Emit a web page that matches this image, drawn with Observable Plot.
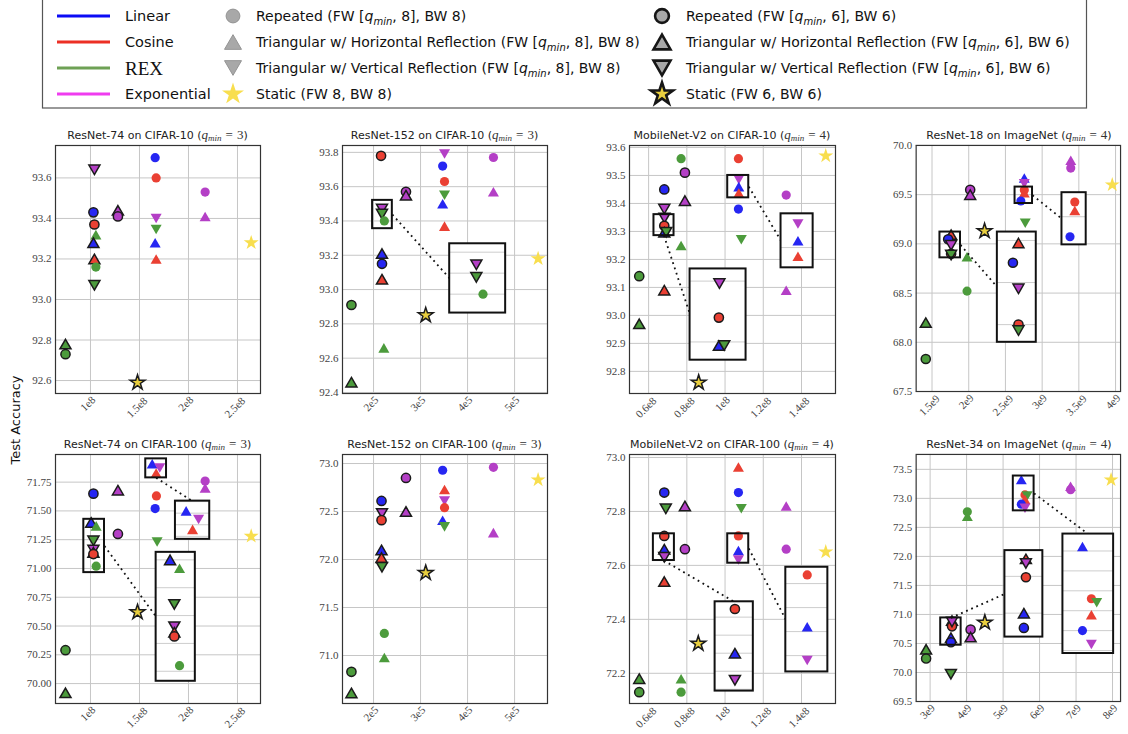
<!DOCTYPE html>
<html>
<head>
<meta charset="utf-8">
<script src="https://cdn.jsdelivr.net/npm/d3@7"></script>
<script src="https://cdn.jsdelivr.net/npm/@observablehq/plot@0.6"></script>
<style>
  html, body { margin: 0; padding: 0; background: #fff; }
  body { position: relative; width: 1128px; height: 734px; overflow: hidden; font-family: "DejaVu Sans", sans-serif; }
  .abs { position: absolute; }
  .title { font-size: 11px; color: #222; text-align: center; white-space: nowrap; line-height: 14px; }
  .math { font-family: "Liberation Serif", serif; font-size: 13px; color: #333; }
  .math i { font-style: italic; }
  .math sub { font-size: 9px; font-style: italic; vertical-align: -2px; line-height: 0; }
  .math .eq { margin: 0 4px; }
  #panels svg text { font-family: "Liberation Serif", serif; }
  #ylabel { left: 15px; top: 420px; transform: translate(-50%, -50%) rotate(-90deg); font-size: 13px; color: #111; white-space: nowrap; }
</style>
</head>
<body>
<div id="legend" class="abs" style="left:0;top:0"></div>
<div id="ylabel" class="abs">Test Accuracy</div>
<div id="panels"></div>
<script>
// ---------------------------------------------------------------------------
// Results: [schedule, precision pattern, forward bits, training cost, test accuracy]
// ---------------------------------------------------------------------------
const resnet74Cifar10 = [
  ["REX", "TriH", 6, 0.745e8, 92.78],
  ["REX", "Repeated", 6, 0.745e8, 92.73],
  ["Exponential", "TriV", 6, 1.04e8, 93.64],
  ["Linear", "Repeated", 6, 1.03e8, 93.43],
  ["Cosine", "Repeated", 6, 1.04e8, 93.37],
  ["REX", "TriH", 8, 1.055e8, 93.32],
  ["Linear", "TriH", 6, 1.03e8, 93.28],
  ["Cosine", "TriH", 6, 1.04e8, 93.20],
  ["REX", "Repeated", 8, 1.055e8, 93.16],
  ["REX", "TriV", 6, 1.04e8, 93.07],
  ["Exponential", "TriH", 6, 1.28e8, 93.44],
  ["Exponential", "Repeated", 6, 1.28e8, 93.41],
  ["Static", "Static", 6, 1.48e8, 92.59],
  ["Linear", "Repeated", 8, 1.66e8, 93.70],
  ["Cosine", "Repeated", 8, 1.67e8, 93.60],
  ["Exponential", "TriV", 8, 1.67e8, 93.40],
  ["REX", "TriV", 8, 1.67e8, 93.345],
  ["Linear", "TriH", 8, 1.66e8, 93.28],
  ["Cosine", "TriH", 8, 1.67e8, 93.20],
  ["Exponential", "Repeated", 8, 2.17e8, 93.53],
  ["Exponential", "TriH", 8, 2.17e8, 93.41],
  ["Static", "Static", 8, 2.64e8, 93.28]
];

const resnet152Cifar10 = [
  ["REX", "Repeated", 6, 1.53e5, 92.91],
  ["REX", "TriH", 6, 1.53e5, 92.46],
  ["Cosine", "Repeated", 6, 2.16e5, 93.78],
  ["Exponential", "TriV", 6, 2.18e5, 93.47],
  ["REX", "TriV", 6, 2.18e5, 93.44],
  ["REX", "Repeated", 8, 2.23e5, 93.40],
  ["Linear", "TriH", 6, 2.18e5, 93.21],
  ["Linear", "Repeated", 6, 2.18e5, 93.15],
  ["Cosine", "TriH", 6, 2.18e5, 93.06],
  ["REX", "TriH", 8, 2.22e5, 92.66],
  ["Exponential", "Repeated", 6, 2.69e5, 93.57],
  ["Exponential", "TriH", 6, 2.69e5, 93.55],
  ["Static", "Static", 6, 3.11e5, 92.85],
  ["Exponential", "TriV", 8, 3.51e5, 93.79],
  ["Linear", "Repeated", 8, 3.47e5, 93.72],
  ["Cosine", "Repeated", 8, 3.51e5, 93.63],
  ["REX", "TriV", 8, 3.51e5, 93.55],
  ["Linear", "TriH", 8, 3.47e5, 93.50],
  ["Cosine", "TriH", 8, 3.51e5, 93.37],
  ["Exponential", "Repeated", 8, 4.55e5, 93.77],
  ["Exponential", "TriH", 8, 4.55e5, 93.57],
  ["Static", "Static", 8, 5.5e5, 93.18]
];

const mobilenetCifar10 = [
  ["REX", "Repeated", 6, 0.551e8, 93.14],
  ["REX", "TriH", 6, 0.551e8, 92.97],
  ["Linear", "Repeated", 6, 0.682e8, 93.45],
  ["Exponential", "TriV", 6, 0.682e8, 93.38],
  ["Exponential", "TriV", 6, 0.683e8, 93.348],
  ["Cosine", "Repeated", 6, 0.682e8, 93.32],
  ["Linear", "TriH", 6, 0.682e8, 93.297],
  ["REX", "TriV", 6, 0.692e8, 93.297],
  ["Cosine", "TriH", 6, 0.682e8, 93.09],
  ["REX", "Repeated", 8, 0.77e8, 93.56],
  ["Exponential", "Repeated", 6, 0.79e8, 93.51],
  ["Exponential", "TriH", 6, 0.79e8, 93.41],
  ["REX", "TriH", 8, 0.77e8, 93.25],
  ["Static", "Static", 6, 0.862e8, 92.76],
  ["Cosine", "Repeated", 8, 1.07e8, 93.56],
  ["Exponential", "TriV", 8, 1.072e8, 93.485],
  ["Linear", "TriH", 8, 1.072e8, 93.46],
  ["Cosine", "TriH", 8, 1.072e8, 93.437],
  ["Linear", "Repeated", 8, 1.07e8, 93.38],
  ["REX", "TriV", 8, 1.085e8, 93.27],
  ["Exponential", "Repeated", 8, 1.32e8, 93.43],
  ["Exponential", "TriH", 8, 1.32e8, 93.09],
  ["Static", "Static", 8, 1.527e8, 93.57]
];

const resnet18ImageNet = [
  ["REX", "TriH", 6, 1.415e9, 68.20],
  ["REX", "Repeated", 6, 1.415e9, 67.83],
  ["Cosine", "TriH", 6, 1.76e9, 69.094],
  ["Linear", "Repeated", 6, 1.72e9, 69.047],
  ["Exponential", "TriV", 6, 1.76e9, 68.985],
  ["Cosine", "Repeated", 6, 1.76e9, 68.90],
  ["REX", "TriV", 6, 1.76e9, 68.886],
  ["REX", "TriH", 8, 1.977e9, 68.87],
  ["REX", "Repeated", 8, 1.977e9, 68.52],
  ["Exponential", "Repeated", 6, 2.02e9, 69.55],
  ["Exponential", "TriH", 6, 2.02e9, 69.50],
  ["Static", "Static", 6, 2.216e9, 69.13],
  ["Linear", "TriH", 8, 2.757e9, 69.67],
  ["Exponential", "TriV", 8, 2.757e9, 69.61],
  ["Cosine", "Repeated", 8, 2.757e9, 69.547],
  ["Cosine", "TriH", 8, 2.757e9, 69.52],
  ["Linear", "Repeated", 8, 2.71e9, 69.436],
  ["REX", "TriV", 8, 2.77e9, 69.21],
  ["Exponential", "TriH", 8, 3.39e9, 69.85],
  ["Exponential", "Repeated", 8, 3.39e9, 69.77],
  ["Static", "Static", 8, 3.955e9, 69.6]
];

const resnet74Cifar100 = [
  ["REX", "Repeated", 6, 0.745e8, 70.29],
  ["REX", "TriH", 6, 0.745e8, 69.92],
  ["Linear", "Repeated", 6, 1.03e8, 71.65],
  ["Linear", "TriH", 6, 1.007e8, 71.40],
  ["REX", "TriH", 8, 1.058e8, 71.37],
  ["REX", "TriV", 6, 1.03e8, 71.24],
  ["Exponential", "TriV", 6, 1.03e8, 71.16],
  ["Cosine", "TriH", 6, 1.03e8, 71.14],
  ["Cosine", "Repeated", 6, 1.03e8, 71.125],
  ["REX", "Repeated", 8, 1.058e8, 71.02],
  ["Exponential", "TriH", 6, 1.28e8, 71.68],
  ["Exponential", "Repeated", 6, 1.28e8, 71.30],
  ["Static", "Static", 6, 1.48e8, 70.62],
  ["Linear", "TriH", 8, 1.63e8, 71.91],
  ["Exponential", "TriV", 8, 1.707e8, 71.873],
  ["Cosine", "TriH", 8, 1.67e8, 71.83],
  ["Cosine", "Repeated", 8, 1.673e8, 71.63],
  ["Linear", "Repeated", 8, 1.66e8, 71.52],
  ["REX", "TriV", 8, 1.68e8, 71.23],
  ["Exponential", "Repeated", 8, 2.17e8, 71.76],
  ["Exponential", "TriH", 8, 2.17e8, 71.70],
  ["Static", "Static", 8, 2.64e8, 71.28]
];

const resnet152Cifar100 = [
  ["REX", "Repeated", 6, 1.53e5, 70.83],
  ["REX", "TriH", 6, 1.53e5, 70.61],
  ["Linear", "Repeated", 6, 2.17e5, 72.61],
  ["Exponential", "TriV", 6, 2.18e5, 72.48],
  ["Cosine", "Repeated", 6, 2.17e5, 72.41],
  ["Linear", "TriH", 6, 2.17e5, 72.10],
  ["Cosine", "TriH", 6, 2.17e5, 72.02],
  ["REX", "TriV", 6, 2.18e5, 71.92],
  ["REX", "Repeated", 8, 2.23e5, 71.23],
  ["REX", "TriH", 8, 2.23e5, 70.98],
  ["Exponential", "Repeated", 6, 2.69e5, 72.85],
  ["Exponential", "TriH", 6, 2.69e5, 72.50],
  ["Static", "Static", 6, 3.11e5, 71.86],
  ["Linear", "Repeated", 8, 3.47e5, 72.93],
  ["Cosine", "TriH", 8, 3.51e5, 72.73],
  ["Exponential", "TriV", 8, 3.51e5, 72.61],
  ["Cosine", "Repeated", 8, 3.51e5, 72.54],
  ["Linear", "TriH", 8, 3.47e5, 72.41],
  ["REX", "TriV", 8, 3.51e5, 72.34],
  ["Exponential", "Repeated", 8, 4.55e5, 72.96],
  ["Exponential", "TriH", 8, 4.55e5, 72.28],
  ["Static", "Static", 8, 5.5e5, 72.83]
];

const mobilenetCifar100 = [
  ["REX", "TriH", 6, 0.551e8, 72.18],
  ["REX", "Repeated", 6, 0.551e8, 72.13],
  ["Linear", "Repeated", 6, 0.682e8, 72.87],
  ["REX", "TriV", 6, 0.69e8, 72.81],
  ["Cosine", "Repeated", 6, 0.682e8, 72.709],
  ["Linear", "TriH", 6, 0.682e8, 72.66],
  ["Exponential", "TriV", 6, 0.682e8, 72.63],
  ["Cosine", "TriH", 6, 0.682e8, 72.54],
  ["REX", "TriH", 8, 0.77e8, 72.18],
  ["REX", "Repeated", 8, 0.77e8, 72.13],
  ["Exponential", "TriH", 6, 0.79e8, 72.82],
  ["Exponential", "Repeated", 6, 0.79e8, 72.66],
  ["Static", "Static", 6, 0.86e8, 72.31],
  ["Cosine", "TriH", 8, 1.07e8, 72.965],
  ["Linear", "Repeated", 8, 1.07e8, 72.87],
  ["REX", "TriV", 8, 1.085e8, 72.81],
  ["Cosine", "Repeated", 8, 1.07e8, 72.709],
  ["Linear", "TriH", 8, 1.07e8, 72.655],
  ["Exponential", "TriV", 8, 1.07e8, 72.62],
  ["Exponential", "TriH", 8, 1.32e8, 72.82],
  ["Exponential", "Repeated", 8, 1.32e8, 72.66],
  ["Static", "Static", 8, 1.527e8, 72.65]
];

const resnet34ImageNet = [
  ["REX", "TriH", 6, 2.89e9, 70.40],
  ["REX", "Repeated", 6, 2.89e9, 70.24],
  ["Cosine", "TriH", 6, 3.6e9, 70.895],
  ["Cosine", "Repeated", 6, 3.6e9, 70.795],
  ["Exponential", "TriV", 6, 3.6e9, 70.87],
  ["Linear", "TriH", 6, 3.57e9, 70.60],
  ["Linear", "Repeated", 6, 3.57e9, 70.52],
  ["REX", "TriV", 6, 3.57e9, 69.97],
  ["REX", "Repeated", 8, 4.02e9, 72.77],
  ["REX", "TriH", 8, 4.02e9, 72.69],
  ["Exponential", "Repeated", 6, 4.11e9, 70.74],
  ["Exponential", "TriH", 6, 4.11e9, 70.61],
  ["Static", "Static", 6, 4.5e9, 70.86],
  ["Linear", "TriH", 8, 5.5e9, 73.323],
  ["Cosine", "Repeated", 8, 5.6e9, 73.06],
  ["REX", "TriV", 8, 5.66e9, 73.04],
  ["Cosine", "TriH", 8, 5.6e9, 72.98],
  ["Linear", "Repeated", 8, 5.5e9, 72.90],
  ["Exponential", "TriV", 8, 5.6e9, 72.83],
  ["Exponential", "TriH", 8, 6.85e9, 73.21],
  ["Exponential", "Repeated", 8, 6.85e9, 73.15],
  ["Static", "Static", 8, 7.96e9, 73.32]
];

// ---------------------------------------------------------------------------
// Axis ticks and their labels
// ---------------------------------------------------------------------------
const costTicksResNet74 = [1e8, 1.5e8, 2e8, 2.5e8];
const costLabelsResNet74 = ["1e8", "1.5e8", "2e8", "2.5e8"];
const costTicksResNet152 = [2e5, 3e5, 4e5, 5e5];
const costLabelsResNet152 = ["2e5", "3e5", "4e5", "5e5"];
const costTicksMobileNet = [0.6e8, 0.8e8, 1e8, 1.2e8, 1.4e8];
const costLabelsMobileNet = ["0.6e8", "0.8e8", "1e8", "1.2e8", "1.4e8"];
const costTicksResNet18 = [1.5e9, 2e9, 2.5e9, 3e9, 3.5e9, 4e9];
const costLabelsResNet18 = ["1.5e9", "2e9", "2.5e9", "3e9", "3.5e9", "4e9"];
const costTicksResNet34 = [3e9, 4e9, 5e9, 6e9, 7e9, 8e9];
const costLabelsResNet34 = ["3e9", "4e9", "5e9", "6e9", "7e9", "8e9"];

const accLabelsResNet74C10 = ["92.6", "92.8", "93.0", "93.2", "93.4", "93.6"];
const accLabelsResNet152C10 = ["92.4", "92.6", "92.8", "93.0", "93.2", "93.4", "93.6", "93.8"];
const accLabelsMobileNetC10 = ["92.8", "92.9", "93.0", "93.1", "93.2", "93.3", "93.4", "93.5", "93.6"];
const accLabelsResNet18In = ["67.5", "68.0", "68.5", "69.0", "69.5", "70.0"];
const accLabelsResNet74C100 = ["70.00", "70.25", "70.50", "70.75", "71.00", "71.25", "71.50", "71.75"];
const accLabelsResNet152C100 = ["71.0", "71.5", "72.0", "72.5", "73.0"];
const accLabelsMobileNetC100 = ["72.2", "72.4", "72.6", "72.8", "73.0"];
const accLabelsResNet34In = ["69.5", "70.0", "70.5", "71.0", "71.5", "72.0", "72.5", "73.0", "73.5"];

// ---------------------------------------------------------------------------
// Zoomed insets: src = [x0, x1, y0, y1] region magnified into dst (data units)
// ---------------------------------------------------------------------------
const insetsResNet152C10 = [
  {src: [1.98e5, 2.40e5, 93.355, 93.52], dst: [3.62e5, 4.81e5, 92.863, 93.267], from: "right", to: "left", step: 0.05}
];
const insetsMobileNetC10 = [
  {src: [0.628e8, 0.733e8, 93.285, 93.36], dst: [0.817e8, 1.11e8, 92.84, 93.166], from: "bottom", to: "left", step: 0.05},
  {src: [1.014e8, 1.124e8, 93.42, 93.50], dst: [1.293e8, 1.461e8, 93.17, 93.363], from: "right", to: "left", step: 0.05}
];
const insetsResNet18In = [
  {src: [1.608e9, 1.888e9, 68.858, 69.12], dst: [2.39e9, 2.92e9, 68.0, 69.12], from: "right", to: "left", step: 0.1},
  {src: [2.631e9, 2.869e9, 69.41, 69.577], dst: [3.27e9, 3.6e9, 68.99, 69.52], from: "right", to: "left", step: 0.1}
];
const insetsResNet74C100 = [
  {src: [0.932e8, 1.143e8, 70.964, 71.427], dst: [1.67e8, 2.07e8, 70.02, 71.14], from: "right", to: "left", step: 0.1},
  {src: [1.564e8, 1.776e8, 71.787, 71.952], dst: [1.867e8, 2.217e8, 71.253, 71.585], from: "bottom", to: "top", step: 0.05}
];
const insetsMobileNetC100 = [
  {src: [0.625e8, 0.735e8, 72.618, 72.717], dst: [0.948e8, 1.148e8, 72.134, 72.465], from: "bottom", to: "top", step: 0.02},
  {src: [1.014e8, 1.124e8, 72.608, 72.717], dst: [1.318e8, 1.538e8, 72.205, 72.593], from: "right", to: "left", step: 0.025}
];
const insetsResNet34In = [
  {src: [3.29e9, 3.85e9, 70.47, 70.94], dst: [5.05e9, 6.09e9, 70.61, 72.1], from: "top", to: "left", step: 0.2},
  {src: [5.28e9, 5.85e9, 72.785, 73.385], dst: [6.64e9, 8.03e9, 70.327, 72.385], from: "right", to: "top", step: 0.1}
];

// ---------------------------------------------------------------------------
// Panels
// ---------------------------------------------------------------------------
const panels = [
  {model: "ResNet-74", dataset: "CIFAR-10", qmin: 3, rows: resnet74Cifar10,
   xDomain: [0.643e8, 2.735e8], xTicks: costTicksResNet74, xLabels: costLabelsResNet74,
   yDomain: [92.536, 93.76], yLabels: accLabelsResNet74C10, insets: []},
  {model: "ResNet-152", dataset: "CIFAR-10", qmin: 3, rows: resnet152Cifar10,
   xDomain: [1.34e5, 5.70e5], xTicks: costTicksResNet152, xLabels: costLabelsResNet152,
   yDomain: [92.394, 93.84], yLabels: accLabelsResNet152C10, insets: insetsResNet152C10},
  {model: "MobileNet-V2", dataset: "CIFAR-10", qmin: 4, rows: mobilenetCifar10,
   xDomain: [0.5e8, 1.578e8], xTicks: costTicksMobileNet, xLabels: costLabelsMobileNet,
   yDomain: [92.721, 93.607], yLabels: accLabelsMobileNetC10, insets: insetsMobileNetC10},
  {model: "ResNet-18", dataset: "ImageNet", qmin: 4, rows: resnet18ImageNet,
   xDomain: [1.284e9, 4.068e9], xTicks: costTicksResNet18, xLabels: costLabelsResNet18,
   yDomain: [67.5, 70.0], yLabels: accLabelsResNet18In, insets: insetsResNet18In},
  {model: "ResNet-74", dataset: "CIFAR-100", qmin: 3, rows: resnet74Cifar100,
   xDomain: [0.643e8, 2.735e8], xTicks: costTicksResNet74, xLabels: costLabelsResNet74,
   yDomain: [69.827, 71.99], yLabels: accLabelsResNet74C100, insets: insetsResNet74C100},
  {model: "ResNet-152", dataset: "CIFAR-100", qmin: 3, rows: resnet152Cifar100,
   xDomain: [1.34e5, 5.70e5], xTicks: costTicksResNet152, xLabels: costLabelsResNet152,
   yDomain: [70.5, 73.094], yLabels: accLabelsResNet152C100, insets: []},
  {model: "MobileNet-V2", dataset: "CIFAR-100", qmin: 4, rows: mobilenetCifar100,
   xDomain: [0.5e8, 1.578e8], xTicks: costTicksMobileNet, xLabels: costLabelsMobileNet,
   yDomain: [72.088, 73.011], yLabels: accLabelsMobileNetC100, insets: insetsMobileNetC100},
  {model: "ResNet-34", dataset: "ImageNet", qmin: 4, rows: resnet34ImageNet,
   xDomain: [2.617e9, 8.22e9], xTicks: costTicksResNet34, xLabels: costLabelsResNet34,
   yDomain: [69.5, 73.757], yLabels: accLabelsResNet34In, insets: insetsResNet34In}
];

const SCHEDULES = ["Linear", "Cosine", "REX", "Exponential"];
const PATTERNS = ["Repeated", "TriH", "TriV", "Static"];
const PATTERN_NAMES = ["Repeated", "Triangular w/ Horizontal Reflection", "Triangular w/ Vertical Reflection", "Static"];

// ---------------------------------------------------------------------------
// Styles
// ---------------------------------------------------------------------------
const COLOR = {Linear: "#2626f2", Cosine: "#ea4033", REX: "#4c9b3c", Exponential: "#b43fc6"};
const LINE_COLOR = {Linear: "#0b0bf5", Cosine: "#ec2f25", REX: "#6ea155", Exponential: "#ef3cef"};
const STAR_LIGHT = "#f8de4e", STAR_BOLD = "#e9cf3f", EDGE = "#1b1b1b";
const SERIF = "'Liberation Serif', serif";

const sqrt3 = Math.sqrt(3);
const triangleUp = {
  draw(ctx, size) {
    const s = Math.sqrt(4 * size / sqrt3), h = s * sqrt3 / 2;
    ctx.moveTo(0, -h / 2); ctx.lineTo(s / 2, h / 2); ctx.lineTo(-s / 2, h / 2); ctx.closePath();
  }
};
const triangleDown = {
  draw(ctx, size) {
    const s = Math.sqrt(4 * size / sqrt3), h = s * sqrt3 / 2;
    ctx.moveTo(0, h / 2); ctx.lineTo(s / 2, -h / 2); ctx.lineTo(-s / 2, -h / 2); ctx.closePath();
  }
};
const SYMBOL = {Repeated: d3.symbolCircle, TriH: triangleUp, TriV: triangleDown, Static: d3.symbolStar};
const RADIUS = {Repeated: 4.6, TriH: 4.1, TriV: 4.1, Static: 4.7};

// Layout of the 2 x 4 grid of axes (page pixels of each frame)
const COL_LEFT = [55, 342, 629, 916], COL_W = [205, 205, 206, 206];
const ROW_TOP = [145, 454], ROW_H = [248, 249];
const M = {left: 45, right: 8, top: 8, bottom: 42};

const toPoints = rows => rows.map(([schedule, pattern, fw, cost, acc]) => ({schedule, pattern, fw, cost, acc}));

function dotMarks(points) {
  return points.map(p => Plot.dot([p], {
    x: "cost", y: "acc",
    symbol: SYMBOL[p.pattern], r: RADIUS[p.pattern],
    fill: p.schedule === "Static" ? (p.fw === 6 ? STAR_BOLD : STAR_LIGHT) : COLOR[p.schedule],
    stroke: p.fw === 6 ? EDGE : "none", strokeWidth: 1.5
  }));
}

function anchor([x0, x1, y0, y1], side) {
  if (side === "right") return [x1, (y0 + y1) / 2];
  if (side === "left") return [x0, (y0 + y1) / 2];
  if (side === "top") return [(x0 + x1) / 2, y1];
  return [(x0 + x1) / 2, y0];
}

function boxMark(box, options) {
  return Plot.rect([box], {x1: d => d[0], x2: d => d[1], y1: d => d[2], y2: d => d[3], ...options});
}

function insetMarks(inset, points) {
  const [sx0, sx1, sy0, sy1] = inset.src, [dx0, dx1, dy0, dy1] = inset.dst;
  const fx = v => dx0 + (v - sx0) / (sx1 - sx0) * (dx1 - dx0);
  const fy = v => dy0 + (v - sy0) / (sy1 - sy0) * (dy1 - dy0);
  const inside = points.filter(p => p.cost >= sx0 && p.cost <= sx1 && p.acc >= sy0 && p.acc <= sy1);
  const k0 = Math.ceil(sy0 / inset.step - 1e-9), k1 = Math.floor(sy1 / inset.step + 1e-9);
  const grid = d3.range(k0, k1 + 1).map(k => fy(k * inset.step));
  const a = anchor(inset.src, inset.from), b = anchor(inset.dst, inset.to);
  return [
    boxMark(inset.src, {fill: "none", stroke: "#111", strokeWidth: 2}),
    Plot.link([[a, b]], {x1: d => d[0][0], y1: d => d[0][1], x2: d => d[1][0], y2: d => d[1][1],
      stroke: "#111", strokeWidth: 1.8, strokeDasharray: "1.8 3.8"}),
    boxMark(inset.dst, {fill: "white", stroke: "none"}),
    Plot.ruleY(grid, {x1: dx0, x2: dx1, stroke: "#cdcdcd", strokeWidth: 1}),
    ...dotMarks(inside.map(p => ({...p, cost: fx(p.cost), acc: fy(p.acc)}))),
    boxMark(inset.dst, {fill: "none", stroke: "#111", strokeWidth: 2})
  ];
}

const container = document.getElementById("panels");

panels.forEach((panel, i) => {
  const col = i % 4, row = Math.floor(i / 4);
  const fw = COL_W[col], fh = ROW_H[row];
  const points = toPoints(panel.rows);
  const yTicks = panel.yLabels.map(Number);
  const yLabelOf = new Map(yTicks.map((t, j) => [t, panel.yLabels[j]]));

  const xLabelMarks = panel.xTicks.map((t, j) => {
    const label = panel.xLabels[j];
    return Plot.text([t], {
      x: d => d, text: () => label, frameAnchor: "bottom", rotate: -45,
      textAnchor: "middle", dy: 4 + (label.length * 5.3 + 9) * 0.354,
      fontSize: 11, fontFamily: SERIF, fill: "#444"
    });
  });

  const chart = Plot.plot({
    width: fw + M.left + M.right,
    height: fh + M.top + M.bottom,
    marginLeft: M.left, marginRight: M.right, marginTop: M.top, marginBottom: M.bottom,
    x: {type: "linear", domain: panel.xDomain},
    y: {type: "linear", domain: panel.yDomain},
    style: {background: "transparent", overflow: "visible", fontFamily: SERIF},
    marks: [
      Plot.gridX(panel.xTicks, {stroke: "#c6c6c6", strokeOpacity: 1, strokeWidth: 1}),
      Plot.gridY(yTicks, {stroke: "#c6c6c6", strokeOpacity: 1, strokeWidth: 1}),
      Plot.axisY(yTicks, {tickSize: 0, tickPadding: 4, tickFormat: d => yLabelOf.get(d),
        fontSize: 11, fontFamily: SERIF, color: "#444", label: null}),
      Plot.axisX(panel.xTicks, {tickSize: 0, tickFormat: () => "", label: null}),
      ...xLabelMarks,
      ...dotMarks(points),
      ...panel.insets.flatMap(inset => insetMarks(inset, points)),
      Plot.frame({stroke: "#333", strokeWidth: 1.2})
    ]
  });

  const wrap = document.createElement("div");
  wrap.className = "abs";
  wrap.style.left = (COL_LEFT[col] - M.left) + "px";
  wrap.style.top = (ROW_TOP[row] - M.top) + "px";
  wrap.appendChild(chart);
  container.appendChild(wrap);

  const title = document.createElement("div");
  title.className = "abs title";
  title.style.left = (COL_LEFT[col] - 40) + "px";
  title.style.width = (fw + 80) + "px";
  title.style.top = (ROW_TOP[row] - 17) + "px";
  title.innerHTML = `${panel.model} on ${panel.dataset} (<span class="math"><i>q</i><sub>min</sub><span class="eq">=</span>${panel.qmin}</span>)`;
  container.appendChild(title);
});

// ---------------------------------------------------------------------------
// Legend
// ---------------------------------------------------------------------------
const LEGEND_ROWS = [16, 42, 68, 94];
const legend = d3.select("#legend").append("svg").attr("width", 1128).attr("height", 112)
  .style("font-family", "'DejaVu Sans', sans-serif");

legend.append("rect").attr("x", 42.5).attr("y", -3).attr("width", 1044).attr("height", 111)
  .attr("fill", "#fff").attr("stroke", "#555").attr("stroke-width", 1.2);

SCHEDULES.forEach((s, i) => {
  const y = LEGEND_ROWS[i];
  legend.append("line").attr("x1", 57).attr("x2", 110).attr("y1", y).attr("y2", y)
    .attr("stroke", LINE_COLOR[s]).attr("stroke-width", 3);
  const t = legend.append("text").attr("x", 125).attr("y", y).attr("dy", "0.35em").attr("fill", "#111").text(s);
  if (s === "REX") t.attr("font-family", SERIF).attr("font-size", 19);
  else t.attr("font-size", 14.5);
});

const legendSymbol = d3.symbol();
const LEGEND_SIZE = {Repeated: 150, TriH: 125, TriV: 125, Static: 150};

function legendColumn(fwBits, markerX, textX) {
  PATTERNS.forEach((p, i) => {
    const y = LEGEND_ROWS[i];
    const bold = fwBits === 6;
    const isStar = p === "Static";
    legend.append("path")
      .attr("transform", `translate(${markerX},${y})`)
      .attr("d", legendSymbol.type(SYMBOL[p]).size(LEGEND_SIZE[p])())
      .attr("fill", isStar ? (bold ? STAR_BOLD : STAR_LIGHT) : "#a8a8a8")
      .attr("stroke", bold ? "#161616" : (isStar ? "none" : "#949494"))
      .attr("stroke-width", bold ? 2.6 : 1);
    const t = legend.append("text").attr("x", textX).attr("y", y).attr("dy", "0.35em")
      .attr("font-size", 14).attr("fill", "#111");
    if (isStar) {
      t.text(`Static (FW ${fwBits}, BW ${fwBits})`);
    } else {
      t.append("tspan").text(`${PATTERN_NAMES[i]} (FW [`);
      t.append("tspan").attr("font-style", "italic").text("q");
      t.append("tspan").attr("font-style", "italic").attr("font-size", 10).attr("dy", 4).text("min");
      t.append("tspan").attr("dy", -4).text(`, ${fwBits}], BW ${fwBits})`);
    }
  });
}
legendColumn(8, 233, 256);
legendColumn(6, 662, 686);
</script>
</body>
</html>
